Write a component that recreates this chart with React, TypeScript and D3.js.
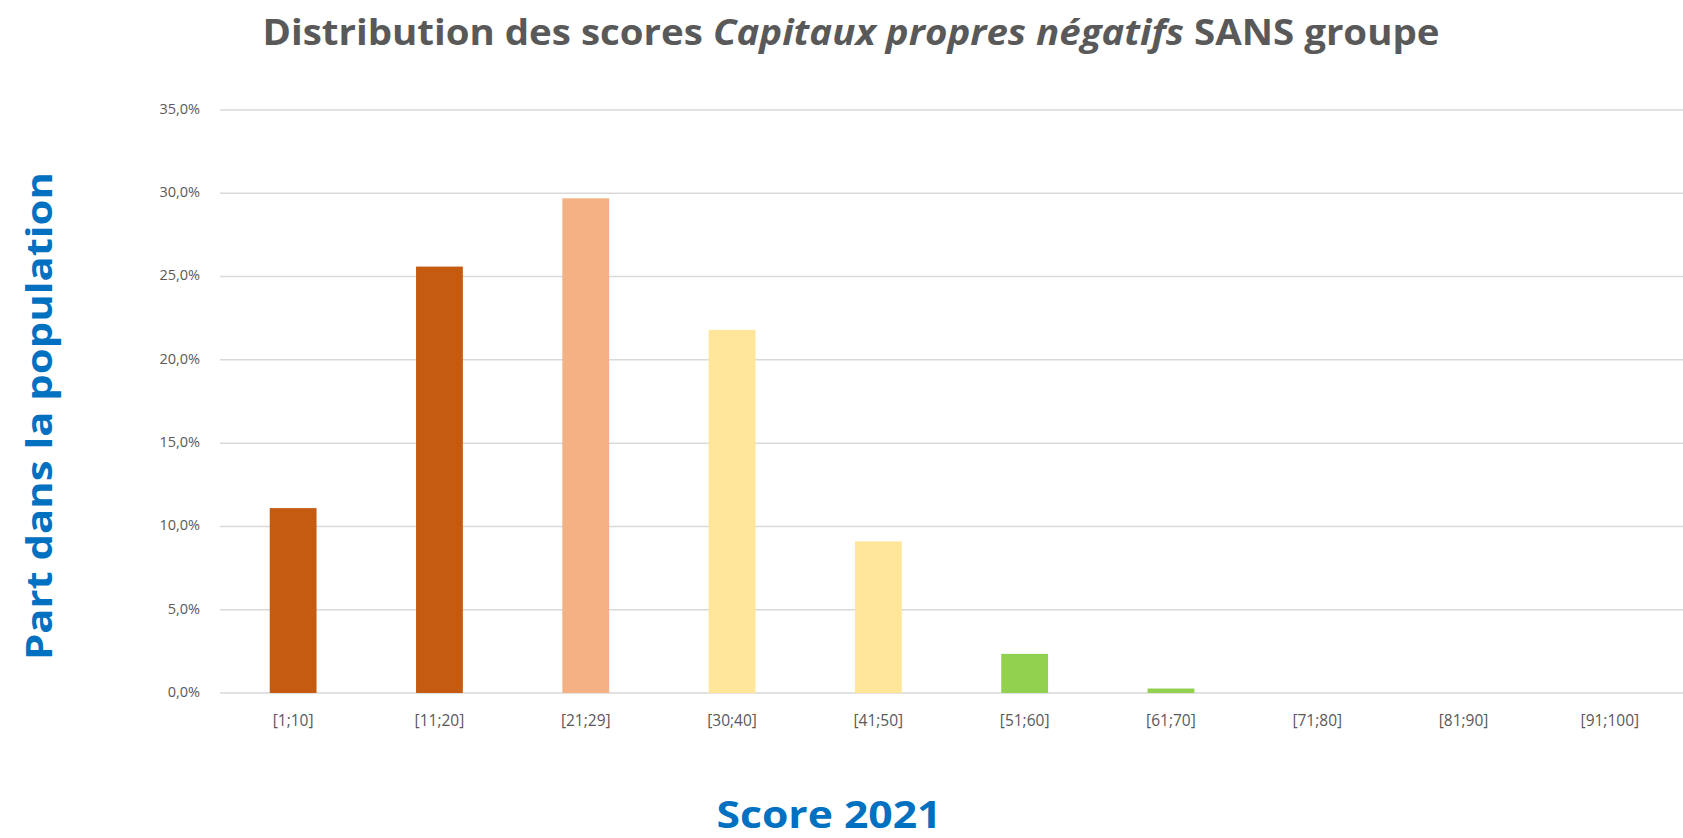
import { useEffect, useRef } from 'react';
import * as d3 from 'd3';

const categories = ['[1;10]', '[11;20]', '[21;29]', '[30;40]', '[41;50]', '[51;60]', '[61;70]', '[71;80]', '[81;90]', '[91;100]'];
const shares = [11.1, 25.6, 29.7, 21.8, 9.1, 2.35, 0.27, 0, 0, 0];
const barColors = ['#C55A11', '#C55A11', '#F4B183', '#FFE699', '#FFE699', '#92D050', '#92D050', '#92D050', '#92D050', '#92D050'];
const yTicks = [0, 5, 10, 15, 20, 25, 30, 35];

const WIDTH = 1683;
const HEIGHT = 838;

export default function App() {
  const svgRef = useRef<SVGSVGElement>(null);

  useEffect(() => {
    document.body.style.margin = '0';
    const svg = d3.select(svgRef.current);
    svg.selectAll('*').remove();

    const left = 220, right = 1683, top = 110, bottom = 693;
    const font = '"Open Sans", "Noto Sans", sans-serif';

    const x = d3.scaleBand<string>()
      .domain(categories)
      .range([left, right])
      .paddingInner(0.68)
      .paddingOuter(0.34);

    const y = d3.scaleLinear().domain([0, 35]).range([bottom, top]);

    // gridlines
    svg.append('g')
      .selectAll('line')
      .data(yTicks)
      .join('line')
      .attr('x1', left)
      .attr('x2', right)
      .attr('y1', d => y(d))
      .attr('y2', d => y(d))
      .attr('stroke', '#D9D9D9')
      .attr('stroke-width', 1.5);

    // y tick labels
    svg.append('g')
      .selectAll('text')
      .data(yTicks)
      .join('text')
      .attr('x', 200)
      .attr('y', d => y(d))
      .attr('text-anchor', 'end')
      .attr('dominant-baseline', 'middle')
      .attr('fill', '#595959')
      .style('font-family', font)
      .style('font-size', '14.5px')
      .text(d => d.toFixed(1).replace('.', ',') + '%');

    // bars
    svg.append('g')
      .selectAll('rect')
      .data(shares)
      .join('rect')
      .attr('x', (d, i) => x(categories[i])!)
      .attr('width', x.bandwidth())
      .attr('y', d => y(d))
      .attr('height', d => y(0) - y(d))
      .attr('fill', (d, i) => barColors[i]);

    // x labels
    svg.append('g')
      .selectAll('text')
      .data(categories)
      .join('text')
      .attr('x', d => x(d)! + x.bandwidth() / 2)
      .attr('y', 722)
      .attr('text-anchor', 'middle')
      .attr('dominant-baseline', 'middle')
      .attr('fill', '#595959')
      .style('font-family', font)
      .style('font-size', '15.5px')
      .text(d => d);

    // title
    const title = svg.append('text')
      .attr('x', 851)
      .attr('y', 45)
      .attr('text-anchor', 'middle')
      .attr('textLength', 1177)
      .attr('lengthAdjust', 'spacingAndGlyphs')
      .attr('fill', '#595959')
      .style('font-family', font)
      .style('font-size', '35px')
      .style('font-weight', '700');
    title.append('tspan').text('Distribution des scores ');
    title.append('tspan').style('font-style', 'italic').text('Capitaux propres négatifs');
    title.append('tspan').text(' SANS groupe');

    // axis titles
    svg.append('text')
      .attr('transform', `translate(52,416) rotate(-90)`)
      .attr('text-anchor', 'middle')
      .attr('textLength', 488)
      .attr('lengthAdjust', 'spacingAndGlyphs')
      .attr('fill', '#0070C0')
      .style('font-family', font)
      .style('font-size', '36px')
      .style('font-weight', '700')
      .text('Part dans la population');

    svg.append('text')
      .attr('x', 829)
      .attr('y', 828)
      .attr('text-anchor', 'middle')
      .attr('textLength', 225)
      .attr('lengthAdjust', 'spacingAndGlyphs')
      .attr('fill', '#0070C0')
      .style('font-family', font)
      .style('font-size', '38px')
      .style('font-weight', '700')
      .text('Score 2021');
  }, []);

  return <svg ref={svgRef} width={WIDTH} height={HEIGHT} style={{ display: 'block', background: '#fff' }} />;
}
